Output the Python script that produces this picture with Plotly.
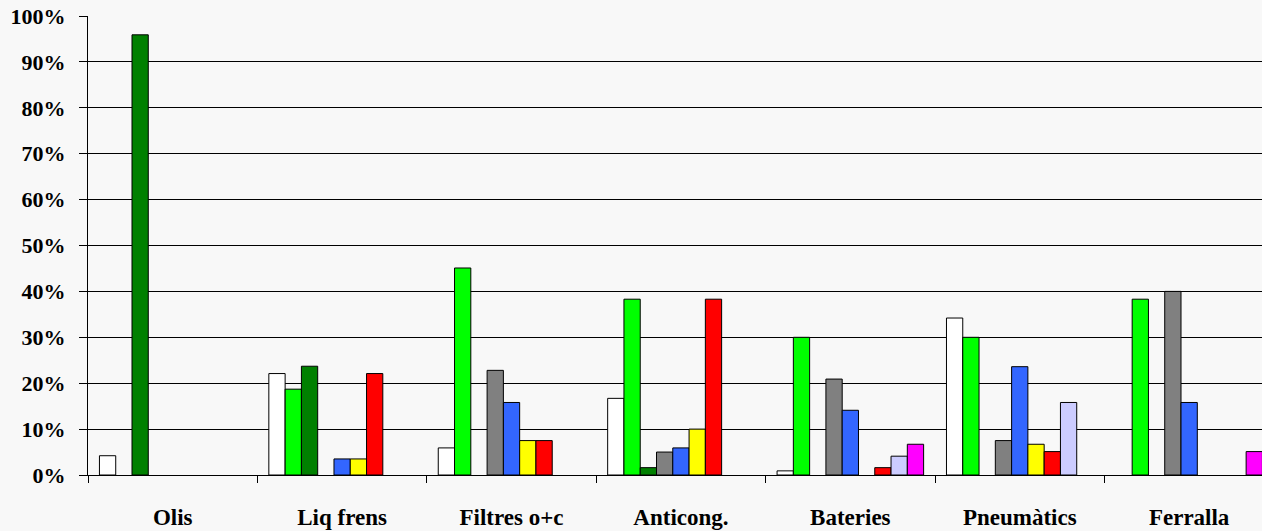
import plotly.graph_objects as go

categories = ["Olis", "Liq frens", "Filtres o+c", "Anticong.", "Bateries", "Pneumàtics", "Ferralla"]

serie_1 = [0.042, 0.221, 0.059, 0.167, 0.009, 0.342, 0.0]
serie_2 = [0.0, 0.187, 0.451, 0.383, 0.300, 0.300, 0.383]
serie_3 = [0.959, 0.237, 0.0, 0.016, 0.0, 0.0, 0.0]
serie_4 = [0.0, 0.0, 0.228, 0.050, 0.209, 0.075, 0.400]
serie_5 = [0.0, 0.035, 0.158, 0.059, 0.141, 0.236, 0.158]
serie_6 = [0.0, 0.035, 0.075, 0.100, 0.0, 0.067, 0.0]
serie_7 = [0.0, 0.221, 0.075, 0.383, 0.016, 0.051, 0.0]
serie_8 = [0.0, 0.0, 0.0, 0.0, 0.041, 0.158, 0.0]
serie_9 = [0.0, 0.0, 0.0, 0.0, 0.067, 0.0, 0.051]

series = [serie_1, serie_2, serie_3, serie_4, serie_5, serie_6, serie_7, serie_8, serie_9]
names = ["Sèrie 1", "Sèrie 2", "Sèrie 3", "Sèrie 4", "Sèrie 5", "Sèrie 6", "Sèrie 7", "Sèrie 8", "Sèrie 9"]
colors = ["#FFFFFF", "#00FF00", "#008000", "#808080", "#3366FF", "#FFFF00", "#FF0000", "#CCCCFF", "#FF00FF"]

fig = go.Figure()
for name, vals, col in zip(names, series, colors):
    fig.add_trace(go.Bar(
        x=categories, y=[v if v > 0 else None for v in vals], name=name,
        marker=dict(color=col, line=dict(color="#000000", width=1)),
    ))

font_family = "Liberation Serif"
fig.update_layout(
    width=1262, height=531,
    barmode="group", bargap=0.135, bargroupgap=0,
    showlegend=False,
    paper_bgcolor="#F8F8F8", plot_bgcolor="#F8F8F8",
    margin=dict(l=88, r=0, t=16, b=56, autoexpand=False),
    font=dict(family=font_family, color="#000000"),
)
fig.update_xaxes(
    type="category", range=[-0.5, 6.43], automargin=False,
    showline=True, linecolor="#000000", linewidth=1,
    ticks="outside", tickson="boundaries", ticklen=7, tickcolor="#000000", tickwidth=1,
    showgrid=False,
    tickfont=dict(family=font_family, size=23, color="#000000", weight="bold"),
    ticklabelstandoff=21,
)
fig.update_yaxes(
    range=[0, 1.0], dtick=0.1, tickformat=".0%", automargin=False,
    showline=True, linecolor="#000000", linewidth=1,
    ticks="outside", ticklen=8, tickcolor="#000000", tickwidth=1,
    showgrid=True, gridcolor="#000000", gridwidth=1,
    zeroline=False,
    tickfont=dict(family=font_family, size=22, color="#000000", weight="bold"),
    ticklabelstandoff=9,
)

fig.write_html(
    "out.html",
    config={"displayModeBar": False},
    post_script="document.body.style.margin='0';document.body.style.background='#F8F8F8';",
)
